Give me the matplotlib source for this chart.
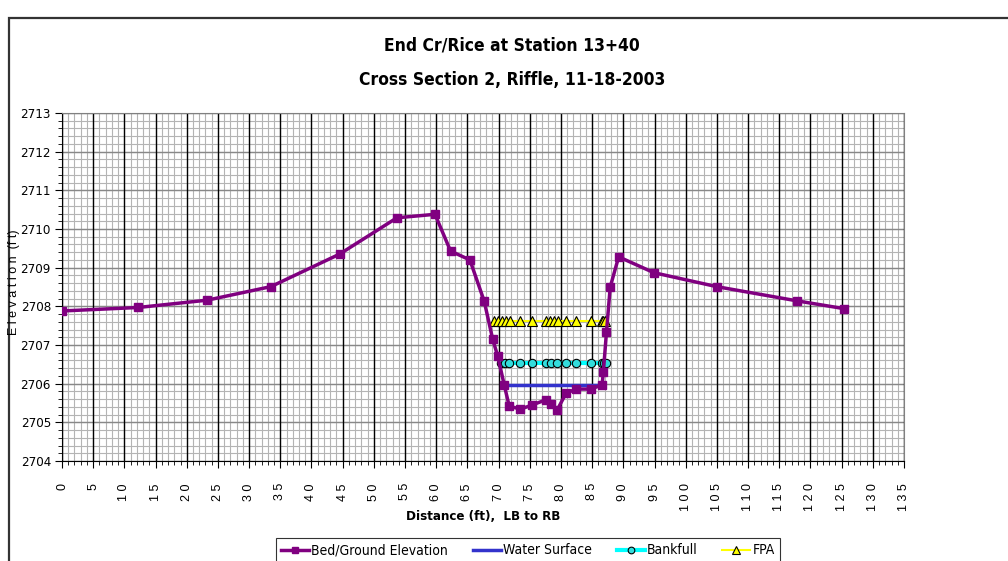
import numpy as np
import matplotlib
matplotlib.use('Agg')
import matplotlib.pyplot as plt
from matplotlib.patches import Rectangle

# bed / ground survey points (distance ft, elevation ft)
bed_x = [0, 12.2, 23.3, 33.5, 44.5, 53.7, 59.8, 62.3, 65.4, 67.7, 69.05, 69.85, 70.9, 71.7,
         73.5, 75.4, 77.55, 78.35, 79.4, 80.8, 82.4, 84.8, 86.6, 86.8, 87.3, 87.9, 89.25,
         94.9, 104.95, 117.9, 125.4]
bed_y = [2707.88, 2707.97, 2708.16, 2708.51, 2709.35, 2710.29, 2710.38, 2709.43, 2709.20,
         2708.13, 2707.15, 2706.72, 2705.97, 2705.42, 2705.34, 2705.45, 2705.58, 2705.47,
         2705.32, 2705.75, 2705.86, 2705.86, 2705.97, 2706.31, 2707.34, 2708.50, 2709.28,
         2708.87, 2708.51, 2708.14, 2707.94]

ws_x = [70.9, 86.4]
ws_y = [2705.96, 2705.96]

bkf_x = [70.4, 71.0, 71.7, 73.5, 75.4, 77.55, 78.35, 79.3, 80.8, 82.4, 84.8, 86.6, 86.9, 87.2]
bkf_elev = 2706.53

fpa_x = [69.3, 69.95, 70.6, 71.2, 71.8, 73.5, 75.4, 77.55, 78.25, 78.9, 79.5, 80.8, 82.4,
         84.8, 86.5, 86.8, 87.1]
fpa_elev = 2707.63

x_ticks = np.arange(0, 136, 5)
y_ticks = np.arange(2704, 2714, 1)

narrow = dict(family=['DejaVu Sans'], stretch='condensed')
regular = ['Liberation Sans', 'DejaVu Sans']

fig = plt.figure(figsize=(10.08, 5.61), dpi=100)
W, H = 1008, 561
ax = fig.add_axes([62 / W, 1 - 461 / H, (904 - 62) / W, (461 - 113) / H])

# outer chart frame
fig.patches.append(Rectangle((9 / W, -0.2), 1.2, 1 - 18 / H + 0.2, transform=fig.transFigure,
                             fill=False, edgecolor='#333333', linewidth=1.6))

# grid
for v in np.arange(0, 136, 1):
    ax.axvline(v, color='#b4b4b4', lw=0.8, zorder=0)
for v in x_ticks:
    ax.axvline(v, color='black', lw=1.0, zorder=0.5)
for v in np.arange(2704, 2713.01, 0.2):
    ax.axhline(v, color='#b4b4b4', lw=0.8, zorder=0)
for v in y_ticks:
    ax.axhline(v, color='#888888', lw=1.0, zorder=0.3)

ax.plot(ws_x, ws_y, color='#3333cc', lw=2.5, label='Water Surface', zorder=3)
ax.plot(bkf_x, [bkf_elev] * len(bkf_x), color='#00ffff', lw=3, marker='o', ms=6,
        markerfacecolor='#33dddd', markeredgecolor='black', markeredgewidth=0.8,
        label='Bankfull', zorder=4)
ax.plot(fpa_x, [fpa_elev] * len(fpa_x), color='#ffff00', lw=1.5, marker='^', ms=7,
        markerfacecolor='#ffff00', markeredgecolor='black', markeredgewidth=0.8,
        label='FPA', zorder=4)
ax.plot(bed_x, bed_y, color='#800080', lw=2.5, marker='s', ms=6, label='Bed/Ground Elevation',
        zorder=5)

ax.set_xlim(0, 135)
ax.set_ylim(2704, 2713)
ax.set_xticks(x_ticks)
ax.set_xticklabels([' '.join(str(v)) for v in x_ticks], rotation=90, family=regular, fontsize=9)
ax.set_xticks(np.arange(0, 136, 1), minor=True)
ax.set_yticks(y_ticks)
ax.set_yticklabels([str(v) for v in y_ticks], fontsize=9.5, **narrow)
ax.set_yticks(np.arange(2704, 2713.01, 0.2), minor=True)
ax.tick_params(axis='x', which='major', length=5, pad=11, direction='out')
ax.tick_params(axis='x', which='minor', length=3, direction='out')
ax.tick_params(axis='y', which='major', length=5, pad=3, direction='out')
ax.tick_params(axis='y', which='minor', length=3, direction='out')
for s in ['top', 'right']:
    ax.spines[s].set_color('#808080')

fig.text(512 / W, 1 - 46 / H, 'End Cr/Rice at Station 13+40', ha='center', va='center',
         fontsize=12.5, fontweight='bold', **narrow)
fig.text(512 / W, 1 - 80 / H, 'Cross Section 2, Riffle, 11-18-2003', ha='center', va='center',
         fontsize=12.5, fontweight='bold', **narrow)
fig.text(483 / W, 1 - 516 / H, 'Distance (ft),  LB to RB', ha='center', va='center',
         fontsize=9.5, fontweight='bold', **narrow)
fig.text(14 / W, 1 - 282 / H, 'E l e v a t i o n  (f t)', ha='center', va='center', rotation=90,
         family=regular, fontsize=9)

h, l = ax.get_legend_handles_labels()
order = [3, 0, 1, 2]
leg = fig.legend([h[i] for i in order], [l[i] for i in order], ncol=4,
                 loc='upper center', bbox_to_anchor=(528 / W, 1 - 531 / H),
                 prop={'family': ['DejaVu Sans'], 'stretch': 'condensed', 'size': 10},
                 frameon=True, fancybox=False,
                 edgecolor='black', handlelength=2.0, handletextpad=0.15,
                 columnspacing=1.8, borderpad=0.4, markerscale=0.8)
leg.get_frame().set_linewidth(0.8)

fig.savefig('out.png', dpi=100)
